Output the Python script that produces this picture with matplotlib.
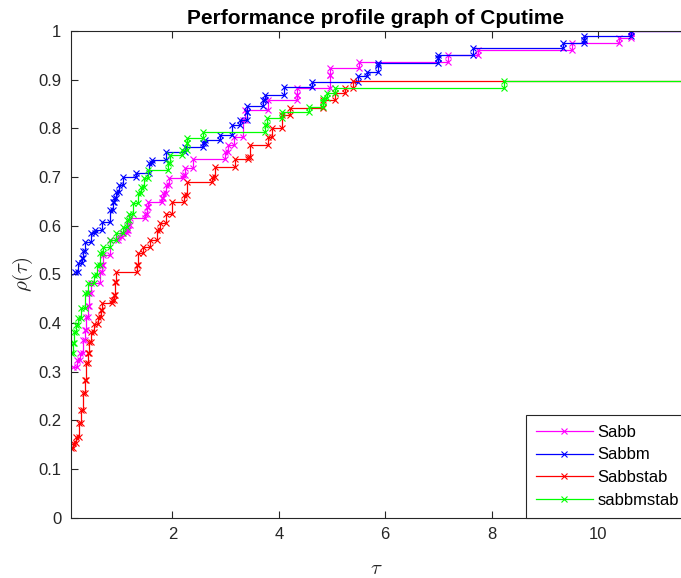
import matplotlib
matplotlib.use("Agg")
import matplotlib.pyplot as plt

plt.rcParams["font.family"] = ["Liberation Sans", "DejaVu Sans"]
plt.rcParams["mathtext.fontset"] = "cm"

# step points: tau where the profile jumps, and rho reached after the jump
sabb_tau = [0.14, 0.20, 0.27, 0.32, 0.35, 0.38, 0.41, 0.44, 0.47, 0.64, 0.67, 0.70,
            0.83, 0.98, 1.05, 1.14, 1.17, 1.20, 1.49, 1.52, 1.55, 1.80, 1.83, 1.88,
            1.94, 2.20, 2.23, 2.39, 2.99, 3.05, 3.15, 3.33, 3.37, 3.80, 4.34, 4.34,
            4.96, 4.96, 5.50, 7.19, 7.75, 9.51, 10.40, 10.62, 10.62]
sabb_rho = [0.310, 0.324, 0.338, 0.365, 0.386, 0.413, 0.434, 0.461, 0.482, 0.505, 0.519, 0.540,
            0.571, 0.577, 0.584, 0.591, 0.601, 0.615, 0.625, 0.639, 0.649, 0.656, 0.667, 0.684,
            0.697, 0.704, 0.718, 0.738, 0.752, 0.766, 0.783, 0.817, 0.838, 0.858, 0.868, 0.882,
            0.910, 0.923, 0.937, 0.951, 0.961, 0.975, 0.985, 0.995, 1.0]

sabbm_tau = [0.17, 0.23, 0.30, 0.33, 0.36, 0.48, 0.55, 0.67, 0.83, 0.89, 0.91, 0.94,
             1.00, 1.07, 1.32, 1.57, 1.61, 1.89, 2.24, 2.58, 2.61, 2.90, 3.12, 3.27,
             3.40, 3.40, 3.71, 3.74, 4.09, 4.62, 5.49, 5.65, 5.87, 5.87, 7.00, 7.00,
             7.66, 9.35, 9.73, 9.73, 10.62]
sabbm_rho = [0.505, 0.523, 0.534, 0.547, 0.567, 0.584, 0.591, 0.608, 0.632, 0.649, 0.656, 0.670,
             0.684, 0.701, 0.708, 0.728, 0.735, 0.752, 0.762, 0.769, 0.777, 0.786, 0.807, 0.817,
             0.834, 0.846, 0.858, 0.868, 0.884, 0.896, 0.908, 0.916, 0.930, 0.935, 0.944, 0.951,
             0.965, 0.975, 0.981, 0.990, 1.0]

stab_tau = [0.10, 0.13, 0.19, 0.25, 0.28, 0.32, 0.35, 0.38, 0.41, 0.44, 0.47, 0.53,
            0.60, 0.66, 0.68, 0.86, 0.91, 0.92, 0.95, 1.33, 1.36, 1.45, 1.58, 1.71,
            1.77, 1.89, 1.99, 2.21, 2.27, 2.74, 2.80, 3.18, 3.43, 3.46, 3.80, 3.87,
            4.06, 4.21, 4.84, 5.06, 5.25, 5.40]
stab_rho = [0.143, 0.153, 0.166, 0.194, 0.221, 0.256, 0.283, 0.317, 0.338, 0.362, 0.382, 0.399,
            0.413, 0.427, 0.441, 0.447, 0.458, 0.485, 0.505, 0.519, 0.543, 0.557, 0.571, 0.591,
            0.605, 0.625, 0.649, 0.663, 0.690, 0.701, 0.721, 0.738, 0.742, 0.766, 0.783, 0.800,
            0.827, 0.841, 0.858, 0.872, 0.882, 0.897]

mstab_tau = [0.10, 0.13, 0.16, 0.19, 0.22, 0.28, 0.35, 0.41, 0.52, 0.58, 0.64, 0.70,
             0.83, 0.95, 1.08, 1.14, 1.19, 1.26, 1.35, 1.41, 1.47, 1.54, 1.92, 1.96,
             2.18, 2.27, 2.27, 2.58, 3.74, 3.77, 4.06, 4.56, 4.84, 4.84, 4.90, 5.06, 8.24]
mstab_rho = [0.338, 0.358, 0.382, 0.396, 0.410, 0.430, 0.461, 0.482, 0.499, 0.519, 0.543, 0.557,
             0.571, 0.584, 0.598, 0.612, 0.625, 0.646, 0.667, 0.680, 0.697, 0.714, 0.728, 0.745,
             0.755, 0.769, 0.780, 0.793, 0.807, 0.821, 0.834, 0.844, 0.855, 0.862, 0.872, 0.882, 0.897]

names = ["Sabb", "Sabbm", "Sabbstab", "sabbmstab"]
colors = ["#ff00ff", "#0000ff", "#ff0000", "#00ff00"]
XMAX = 11.56


def stair(t, r):
    xs, ys = [t[0]], [r[0]]
    for i in range(1, len(t)):
        xs += [t[i], t[i]]
        ys += [r[i - 1], r[i]]
    return xs, ys


fig = plt.figure(figsize=(6.81, 5.78), dpi=100)
ax = fig.add_axes([0.1043, 0.1043, 0.8957, 0.8421])

series = [(sabb_tau, sabb_rho), (sabbm_tau, sabbm_rho),
          (stab_tau, stab_rho), (mstab_tau, mstab_rho)]
for (t, r), name, c in zip(series, names, colors):
    xs, ys = stair(t, r)
    ax.plot(xs, ys, "-x", color=c, lw=0.9, ms=5, mew=0.8, label=name)
    ax.plot([t[-1], XMAX], [r[-1], r[-1]], "-", color=c, lw=0.9)

ax.set_xlim(0.096, XMAX)
ax.set_ylim(0, 1)
ax.set_xticks([2, 4, 6, 8, 10])
ax.set_yticks([i / 10 for i in range(11)])
ax.set_yticklabels(["0", "0.1", "0.2", "0.3", "0.4", "0.5", "0.6", "0.7", "0.8", "0.9", "1"])
ax.tick_params(direction="in", top=True, right=False, length=5, width=0.8,
               labelsize=12, colors="#262626", pad=7)
for s in ["left", "bottom", "top"]:
    ax.spines[s].set_color("#262626")
    ax.spines[s].set_linewidth(0.8)
ax.spines["right"].set_visible(False)

ax.set_xlabel(r"$\tau$", fontsize=15, color="#262626", labelpad=12)
ax.set_ylabel(r"$\rho(\tau)$", fontsize=15, color="#262626", labelpad=2)
ax.set_title("Performance profile graph of Cputime", fontsize=15, fontweight="bold", pad=5)

# legend box runs a little past the cropped right edge, as in the original
leg = ax.legend(loc="lower right", bbox_to_anchor=(1.013, 0), borderaxespad=0,
                fontsize=12, fancybox=False, edgecolor="#262626", framealpha=1,
                handlelength=3.4, handletextpad=0.3, labelspacing=0.47, borderpad=0.58)
leg.get_frame().set_linewidth(0.8)
leg.set_clip_on(False)

fig.savefig("out.png", dpi=100)
